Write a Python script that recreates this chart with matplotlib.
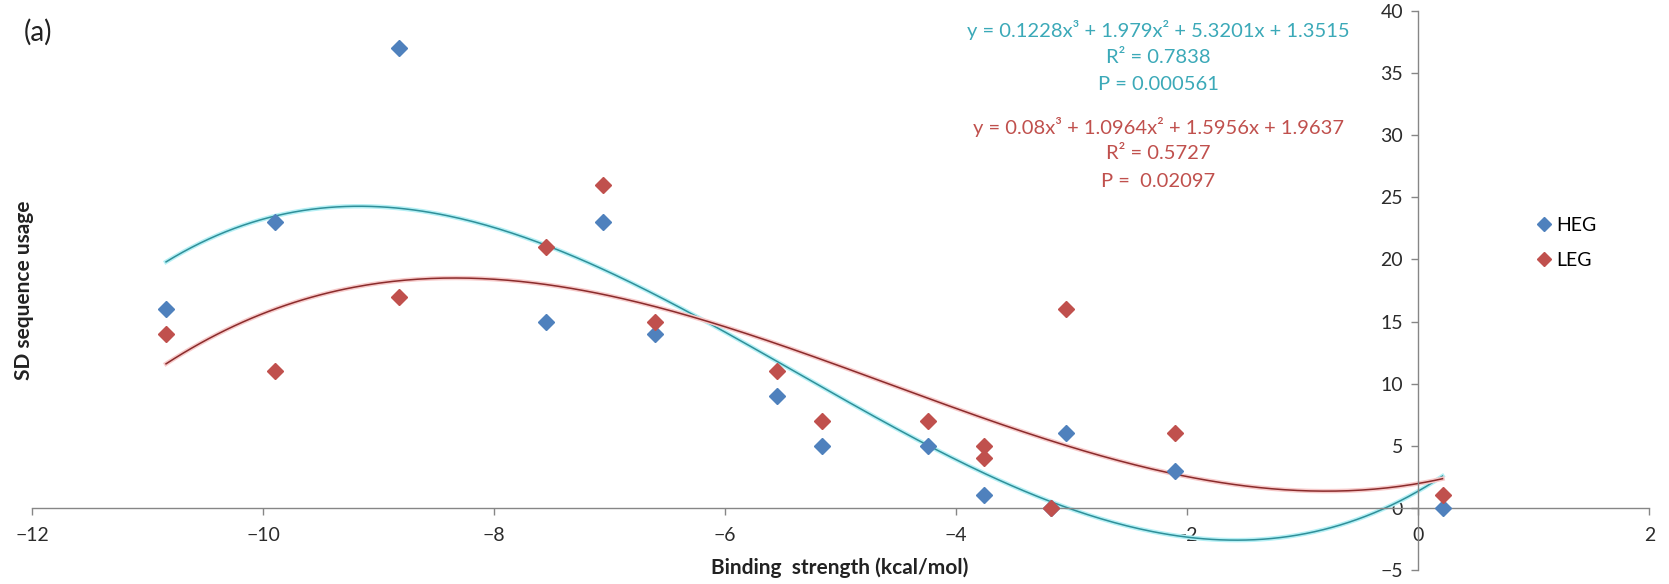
import numpy as np
import matplotlib
matplotlib.use("Agg")
import matplotlib.pyplot as plt

plt.rcParams['font.family'] = ['Lato', 'DejaVu Sans']

# binding strength (kcal/mol) and SD sequence usage
heg_x = [-10.84, -9.90, -8.82, -7.55, -7.06, -6.61, -5.55, -5.16, -4.24, -3.76, -3.18, -3.05, -2.11, 0.21]
heg_y = [16, 23, 37, 15, 23, 14, 9, 5, 5, 1, 0, 6, 3, 0]

leg_x = [-10.84, -9.90, -8.82, -7.55, -7.06, -6.61, -5.55, -5.16, -4.24, -3.76, -3.76, -3.18, -3.05, -2.11, 0.21]
leg_y = [14, 11, 17, 21, 26, 15, 11, 7, 7, 5, 4, 0, 16, 6, 1]

# cubic trend line coefficients as printed on the chart
heg_coef = [0.1228, 1.979, 5.3201, 1.3515]
leg_coef = [0.08, 1.0964, 1.5956, 1.9637]

heg_text = ["y = 0.1228x³ + 1.979x² + 5.3201x + 1.3515", "R² = 0.7838", "P = 0.000561"]
leg_text = ["y = 0.08x³ + 1.0964x² + 1.5956x + 1.9637", "R² = 0.5727", "P =  0.02097"]

x_ticks = [-12, -10, -8, -6, -4, -2, 0, 2]
y_ticks = [-5, 0, 5, 10, 15, 20, 25, 30, 35, 40]

blue = '#4F81BD'
red = '#C0504D'
axis_col = '#868686'

fig = plt.figure(figsize=(16.69, 5.84), dpi=100)
ax = fig.add_axes([0.0192, 0.024, 0.969, 0.957])

# trend lines (light halo + thin dark line, like Excel)
xs = np.linspace(min(heg_x), max(heg_x), 300)
ax.plot(xs, np.polyval(heg_coef, xs), color='#B5F0F5', lw=3.2, zorder=2)
ax.plot(xs, np.polyval(heg_coef, xs), color='#2F8F99', lw=1.1, zorder=2)
xs = np.linspace(min(leg_x), max(leg_x), 300)
ax.plot(xs, np.polyval(leg_coef, xs), color='#F7CACA', lw=3.2, zorder=2)
ax.plot(xs, np.polyval(leg_coef, xs), color='#8A2B2B', lw=1.1, zorder=2)

ax.plot(heg_x, heg_y, 'D', color=blue, ms=8.5, mec=blue, label='HEG', zorder=3)
ax.plot(leg_x, leg_y, 'D', color=red, ms=8.5, mec=red, label='LEG', zorder=3)

ax.set_xlim(-12, 2)
ax.set_ylim(-5, 40)
ax.set_xticks(x_ticks)
ax.set_yticks(y_ticks)

ax.spines['left'].set_position(('data', 0))
ax.spines['bottom'].set_position(('data', 0))
ax.spines['top'].set_visible(False)
ax.spines['right'].set_visible(False)
for s in ['left', 'bottom']:
    ax.spines[s].set_color(axis_col)
    ax.spines[s].set_linewidth(1.0)
ax.tick_params(axis='both', colors=axis_col, labelcolor='#2b2b2b', labelsize=14,
               direction='out', length=5, width=1.0)
ax.tick_params(axis='x', pad=9)
ax.tick_params(axis='y', pad=6)

for i, t in enumerate(heg_text):
    ax.text(-2.25, 38.5 - 2.2 * i, t, color='#3BA9B8', fontsize=14.5, ha='center', va='center')
for i, t in enumerate(leg_text):
    ax.text(-2.25, 30.7 - 2.2 * i, t, color=red, fontsize=14.5, ha='center', va='center')

ax.legend(loc='center', bbox_to_anchor=(0.948, 0.585), frameon=False, fontsize=14,
          handletextpad=0.1, labelspacing=0.9, handlelength=1.0, markerscale=0.85)

fig.text(840 / 1669, 1 - 568 / 584, 'Binding  strength (kcal/mol)', fontsize=15,
         fontweight='bold', ha='center', va='center', color='#222222')
fig.text(24 / 1669, 1 - 290 / 584, 'SD sequence usage', fontsize=15, fontweight='bold',
         rotation=90, ha='center', va='center', color='#222222')
fig.text(38 / 1669, 1 - 32 / 584, '(a)', fontsize=20, ha='center', va='center', color='#222222')

fig.savefig('out.png', dpi=100)
